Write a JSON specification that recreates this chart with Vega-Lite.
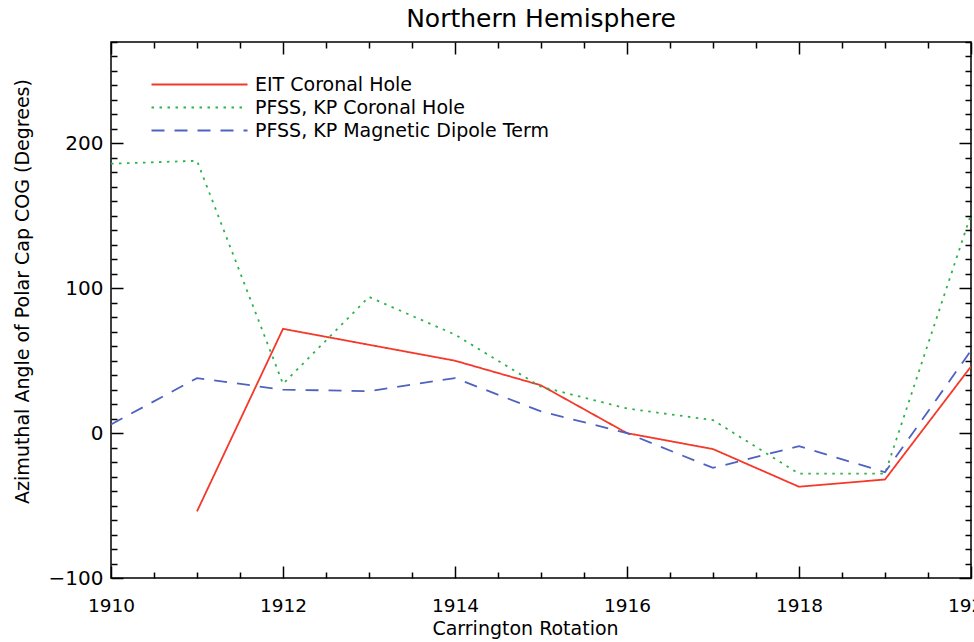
{
  "$schema": "https://vega.github.io/schema/vega-lite/v6.json",
  "autosize": "none",
  "width": 860,
  "height": 536,
  "padding": {"left": 111, "top": 42, "right": 3, "bottom": 64},
  "background": "white",
  "title": {"text": "Northern Hemisphere", "font": "DejaVu Sans", "fontSize": 25, "fontWeight": "normal", "color": "black", "anchor": "middle", "offset": 0},
  "config": {
    "view": {"stroke": "black", "strokeWidth": 1.5},
    "axis": {"labelFont": "DejaVu Sans", "titleFont": "DejaVu Sans", "labelColor": "black", "titleColor": "black", "titleFontWeight": "normal", "domain": false, "grid": false, "tickColor": "black", "tickWidth": 1.5}
  },
  "data": {"values": [
    {"cr": 1911, "v": -54, "series": "EIT Coronal Hole"},
    {"cr": 1912, "v": 72, "series": "EIT Coronal Hole"},
    {"cr": 1913, "v": 61, "series": "EIT Coronal Hole"},
    {"cr": 1914, "v": 50, "series": "EIT Coronal Hole"},
    {"cr": 1915, "v": 33, "series": "EIT Coronal Hole"},
    {"cr": 1916, "v": 0, "series": "EIT Coronal Hole"},
    {"cr": 1917, "v": -11, "series": "EIT Coronal Hole"},
    {"cr": 1918, "v": -37, "series": "EIT Coronal Hole"},
    {"cr": 1919, "v": -32, "series": "EIT Coronal Hole"},
    {"cr": 1920, "v": 46, "series": "EIT Coronal Hole"},
    {"cr": 1910, "v": 186, "series": "PFSS, KP Coronal Hole"},
    {"cr": 1911, "v": 188, "series": "PFSS, KP Coronal Hole"},
    {"cr": 1912, "v": 34, "series": "PFSS, KP Coronal Hole"},
    {"cr": 1913, "v": 94, "series": "PFSS, KP Coronal Hole"},
    {"cr": 1914, "v": 68, "series": "PFSS, KP Coronal Hole"},
    {"cr": 1915, "v": 32, "series": "PFSS, KP Coronal Hole"},
    {"cr": 1916, "v": 17, "series": "PFSS, KP Coronal Hole"},
    {"cr": 1917, "v": 9, "series": "PFSS, KP Coronal Hole"},
    {"cr": 1918, "v": -28, "series": "PFSS, KP Coronal Hole"},
    {"cr": 1919, "v": -28, "series": "PFSS, KP Coronal Hole"},
    {"cr": 1920, "v": 151, "series": "PFSS, KP Coronal Hole"},
    {"cr": 1910, "v": 6, "series": "PFSS, KP Magnetic Dipole Term"},
    {"cr": 1911, "v": 38, "series": "PFSS, KP Magnetic Dipole Term"},
    {"cr": 1912, "v": 30, "series": "PFSS, KP Magnetic Dipole Term"},
    {"cr": 1913, "v": 29, "series": "PFSS, KP Magnetic Dipole Term"},
    {"cr": 1914, "v": 38, "series": "PFSS, KP Magnetic Dipole Term"},
    {"cr": 1915, "v": 15, "series": "PFSS, KP Magnetic Dipole Term"},
    {"cr": 1916, "v": 0, "series": "PFSS, KP Magnetic Dipole Term"},
    {"cr": 1917, "v": -24, "series": "PFSS, KP Magnetic Dipole Term"},
    {"cr": 1918, "v": -9, "series": "PFSS, KP Magnetic Dipole Term"},
    {"cr": 1919, "v": -27, "series": "PFSS, KP Magnetic Dipole Term"},
    {"cr": 1920, "v": 57, "series": "PFSS, KP Magnetic Dipole Term"}
  ]},
  "resolve": {"axis": {"x": "independent", "y": "independent"}},
  "layer": [
    {
      "mark": {"type": "line", "clip": true, "strokeWidth": 1.8},
      "encoding": {
        "x": {"field": "cr", "type": "quantitative",
          "scale": {"domain": [1910, 1920], "nice": false, "zero": false},
          "axis": {"orient": "bottom", "title": "Carrington Rotation", "titleFontSize": 19, "titleX": 414, "titleY": 50, "titleBaseline": "middle", "titleAlign": "center",
            "values": [1910,1910.5,1911,1911.5,1912,1912.5,1913,1913.5,1914,1914.5,1915,1915.5,1916,1916.5,1917,1917.5,1918,1918.5,1919,1919.5,1920],
            "labelExpr": "datum.value % 2 === 0 ? format(datum.value, 'd') : ''",
            "labelFontSize": 18.5, "labelPadding": 30, "labelFlush": false, "labelOverlap": false,
            "tickSize": {"condition": {"test": "datum.value % 2 === 0", "value": -12}, "value": -6}}},
        "y": {"field": "v", "type": "quantitative",
          "scale": {"domain": [-100, 270], "nice": false, "zero": false},
          "axis": {"orient": "left", "title": "Azimuthal Angle of Polar Cap COG (Degrees)", "titleFontSize": 19, "titleX": -89, "titleY": 249, "titleBaseline": "middle", "titleAlign": "center", "titleAngle": -90,
            "values": [-100,-90,-80,-70,-60,-50,-40,-30,-20,-10,0,10,20,30,40,50,60,70,80,90,100,110,120,130,140,150,160,170,180,190,200,210,220,230,240,250,260,270],
            "labelExpr": "datum.value % 100 === 0 ? format(datum.value, 'd') : ''",
            "labelFontSize": 20, "labelPadding": 20, "labelFlush": false, "labelOverlap": false,
            "tickSize": {"condition": {"test": "datum.value % 100 === 0", "value": -12}, "value": -6}}},
        "color": {"field": "series", "type": "nominal",
          "scale": {"domain": ["EIT Coronal Hole", "PFSS, KP Coronal Hole", "PFSS, KP Magnetic Dipole Term"], "range": ["#f4382a", "#2db34a", "#4f62c0"]},
          "legend": {"orient": "none", "legendX": 79, "legendY": 33, "title": null, "padding": 0,
            "symbolType": "M-8,0H8", "symbolSize": 144, "symbolStrokeWidth": 2, "labelOffset": 46, "labelLimit": 500,
            "labelFont": "DejaVu Sans", "labelFontSize": 19, "labelColor": "black", "rowPadding": 3}},
        "strokeDash": {"field": "series", "type": "nominal",
          "scale": {"domain": ["EIT Coronal Hole", "PFSS, KP Coronal Hole", "PFSS, KP Magnetic Dipole Term"], "range": [[1, 0], [2.5, 5.5], [13, 10]]},
          "legend": {"orient": "none", "legendX": 79, "legendY": 33, "title": null, "padding": 0,
            "symbolType": "M-8,0H8", "symbolSize": 144, "symbolStrokeWidth": 2, "labelOffset": 46, "labelLimit": 500,
            "labelFont": "DejaVu Sans", "labelFontSize": 19, "labelColor": "black", "rowPadding": 3}}
      }
    },
    {
      "mark": {"type": "point", "opacity": 0},
      "encoding": {
        "x": {"field": "cr", "type": "quantitative",
          "axis": {"orient": "top", "title": null, "labels": false,
            "values": [1910,1910.5,1911,1911.5,1912,1912.5,1913,1913.5,1914,1914.5,1915,1915.5,1916,1916.5,1917,1917.5,1918,1918.5,1919,1919.5,1920],
            "tickSize": {"condition": {"test": "datum.value % 2 === 0", "value": -12}, "value": -6}}},
        "y": {"field": "v", "type": "quantitative",
          "axis": {"orient": "right", "title": null, "labels": false,
            "values": [-100,-90,-80,-70,-60,-50,-40,-30,-20,-10,0,10,20,30,40,50,60,70,80,90,100,110,120,130,140,150,160,170,180,190,200,210,220,230,240,250,260,270],
            "tickSize": {"condition": {"test": "datum.value % 100 === 0", "value": -12}, "value": -6}}}
      }
    }
  ]
}
